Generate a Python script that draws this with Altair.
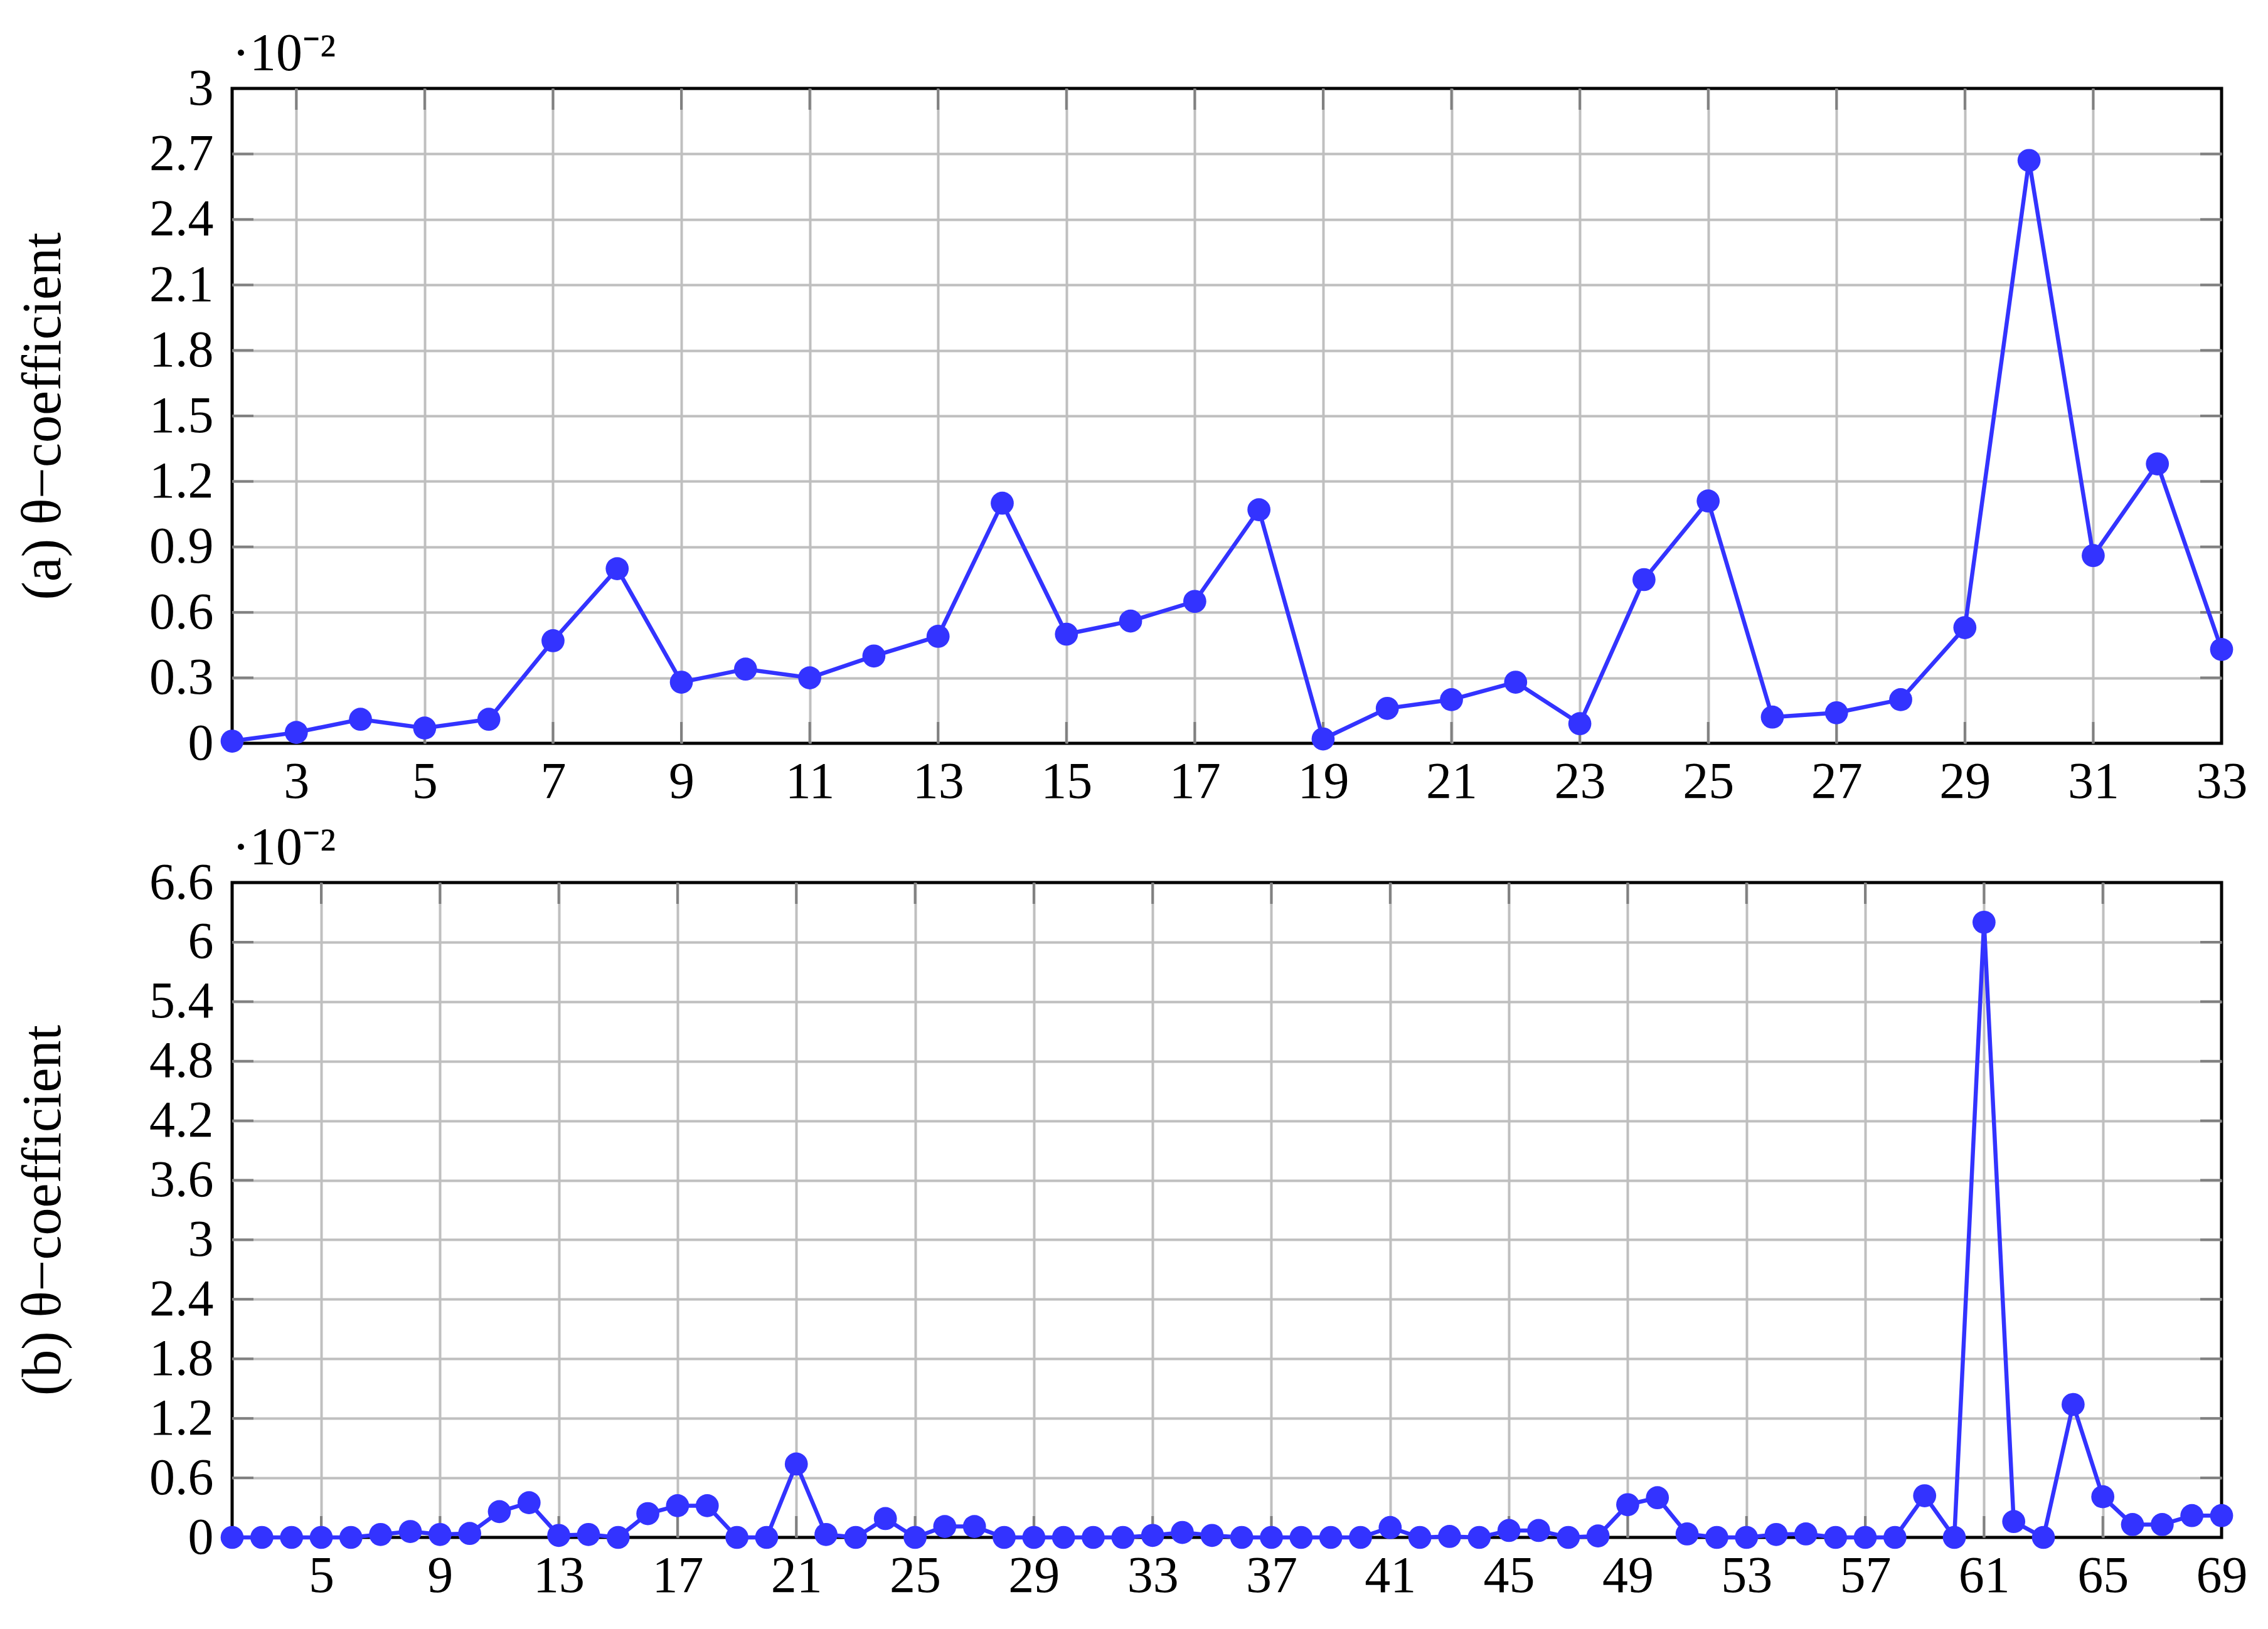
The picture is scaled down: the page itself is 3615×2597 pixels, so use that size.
import altair as alt
import pandas as pd

FONT = "Liberation Serif"
BLUE = "#3333ff"
GRID = "#bfbfbf"
TICKC = "#808080"

# ---- data (values in units of 10^-2) ----
X_A = list(range(2, 34))
Y_A = [0.01, 0.05, 0.11, 0.07, 0.11, 0.47, 0.80, 0.28, 0.34, 0.30,
       0.40, 0.49, 1.10, 0.50, 0.56, 0.65, 1.07, 0.02, 0.16, 0.20,
       0.28, 0.09, 0.75, 1.11, 0.12, 0.14, 0.20, 0.53, 2.67, 0.86,
       1.28, 0.43]

X_B = list(range(2, 70))
Y_B = [0.0, 0.0, 0.0, 0.0, 0.0, 0.03, 0.06, 0.03, 0.04, 0.26,
       0.35, 0.02, 0.03, 0.0, 0.24, 0.32, 0.32, 0.0, 0.0, 0.74,
       0.03, 0.0, 0.19, 0.0, 0.11, 0.11, 0.0, 0.0, 0.0, 0.0,
       0.0, 0.02, 0.05, 0.02, 0.0, 0.0, 0.0, 0.0, 0.0, 0.10,
       0.0, 0.01, 0.0, 0.07, 0.07, 0.0, 0.015, 0.33, 0.40, 0.035,
       0.0, 0.0, 0.03, 0.035, 0.0, 0.0, 0.0, 0.42, 0.0, 6.2,
       0.16, 0.0, 1.34, 0.41, 0.13, 0.13, 0.22, 0.22]

XT_A = [3, 5, 7, 9, 11, 13, 15, 17, 19, 21, 23, 25, 27, 29, 31, 33]
YT_A = [0, 0.3, 0.6, 0.9, 1.2, 1.5, 1.8, 2.1, 2.4, 2.7, 3]
XT_B = [5, 9, 13, 17, 21, 25, 29, 33, 37, 41, 45, 49, 53, 57, 61, 65, 69]
YT_B = [0, 0.6, 1.2, 1.8, 2.4, 3, 3.6, 4.2, 4.8, 5.4, 6, 6.6]

TITLE_A = "(a) θ−coefficient"
TITLE_B = "(b) θ−coefficient"
SCALE_NOTE = "·10⁻²"

W = 3171
H = 1044
TL = 34  # inward tick length


def panel(xs, ys, xdom, xticks, ydom, yticks, ytitle):
    df = pd.DataFrame({"x": xs, "y": ys})
    xsc = alt.Scale(domain=xdom, nice=False, zero=False)
    ysc = alt.Scale(domain=ydom, nice=False, zero=False)
    bx = " || ".join(f"datum.value == {v}" for v in xdom)
    by = " || ".join(f"datum.value == {v}" for v in ydom)
    xaxis = alt.Axis(values=xticks, title=None, grid=True, labelFlush=False,
                     labelOverlap=False, labelPadding=21, format="d",
                     gridOpacity={"condition": {"test": bx, "value": 0}, "value": 1})
    yaxis = alt.Axis(values=yticks, title=ytitle, grid=True, labelPadding=30,
                     labelOverlap=False, format=".2~f", titlePadding=124,
                     gridOpacity={"condition": {"test": by, "value": 0}, "value": 1})
    X = alt.X("x:Q", scale=xsc, axis=xaxis)
    Y = alt.Y("y:Q", scale=ysc, axis=yaxis)
    base = alt.Chart(df)
    line = base.mark_line(color=BLUE, strokeWidth=6.5).encode(x=X, y=Y)
    pts = base.mark_point(filled=True, size=1350, color=BLUE, opacity=1).encode(x=X, y=Y)
    xin = pd.DataFrame({"x": [v for v in xticks if xdom[0] < v < xdom[1]]})
    yin = pd.DataFrame({"y": [v for v in yticks if ydom[0] < v < ydom[1]]})
    rule_kw = dict(color=TICKC, strokeWidth=4)
    tb = alt.Chart(xin).mark_rule(**rule_kw).encode(
        x=X, y=alt.value(H - TL), y2=alt.value(H))
    tt = alt.Chart(xin).mark_rule(**rule_kw).encode(
        x=X, y=alt.value(0), y2=alt.value(TL))
    tl = alt.Chart(yin).mark_rule(**rule_kw).encode(
        y=Y, x=alt.value(0), x2=alt.value(TL))
    tr = alt.Chart(yin).mark_rule(**rule_kw).encode(
        y=Y, x=alt.value(W - TL), x2=alt.value(W))
    return alt.layer(tb, tt, tl, tr, line, pts).properties(
        width=W, height=H,
        title=alt.TitleParams(SCALE_NOTE, anchor="start", frame="group",
                              fontSize=84, font=FONT, fontWeight="normal",
                              baseline="alphabetic", offset=-96, color="black"),
    )


top = panel(X_A, Y_A, [2, 33], XT_A, [0, 3], YT_A, TITLE_A)
bot = panel(X_B, Y_B, [2, 69], XT_B, [0, 6.6], YT_B, TITLE_B)

chart = alt.vconcat(top, bot, spacing=18).properties(
    padding={"left": 15, "top": 34, "right": 5, "bottom": 5}
).configure_view(
    stroke="black", strokeWidth=5
).configure_axis(
    labelFont=FONT, labelFontSize=82, labelColor="black",
    titleFont=FONT, titleFontSize=88, titleFontWeight="normal", titleColor="black",
    gridColor=GRID, gridWidth=4, domain=False, ticks=False,
)

chart.save("out.html", embed_options={"renderer": "svg", "actions": False})
